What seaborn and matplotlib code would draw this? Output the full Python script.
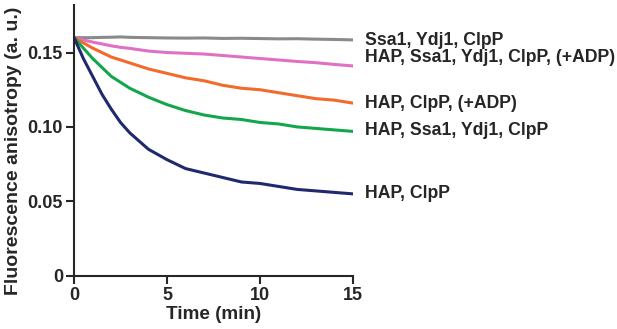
import numpy as np
import pandas as pd
import seaborn as sns
import matplotlib.pyplot as plt

# Data (time in min)
time = [0, 0.5, 1, 1.5, 2, 2.5, 3, 4, 5, 6, 7, 8, 9, 10, 11, 12, 13, 14, 15]
ssa1_ydj1_clpp = [0.160, 0.160, 0.160, 0.1602, 0.1603, 0.1605, 0.1602, 0.160, 0.1598, 0.1597, 0.1598, 0.1595, 0.1596, 0.1594, 0.1592, 0.1593, 0.159, 0.1588, 0.1585]
hap_ssa1_ydj1_clpp_adp = [0.160, 0.1585, 0.157, 0.1558, 0.1545, 0.1535, 0.1528, 0.151, 0.150, 0.1495, 0.149, 0.148, 0.147, 0.146, 0.145, 0.144, 0.1432, 0.142, 0.141]
hap_clpp_adp = [0.160, 0.1565, 0.153, 0.150, 0.147, 0.145, 0.143, 0.139, 0.136, 0.133, 0.131, 0.128, 0.126, 0.125, 0.123, 0.121, 0.119, 0.118, 0.116]
hap_ssa1_ydj1_clpp = [0.160, 0.153, 0.146, 0.140, 0.134, 0.130, 0.126, 0.120, 0.115, 0.111, 0.108, 0.106, 0.105, 0.103, 0.102, 0.100, 0.099, 0.098, 0.097]
hap_clpp = [0.160, 0.146, 0.134, 0.122, 0.112, 0.103, 0.096, 0.085, 0.078, 0.072, 0.069, 0.066, 0.063, 0.062, 0.060, 0.058, 0.057, 0.056, 0.055]

labels = ['Ssa1, Ydj1, ClpP', 'HAP, Ssa1, Ydj1, ClpP, (+ADP)', 'HAP, ClpP, (+ADP)',
          'HAP, Ssa1, Ydj1, ClpP', 'HAP, ClpP']
series = [ssa1_ydj1_clpp, hap_ssa1_ydj1_clpp_adp, hap_clpp_adp, hap_ssa1_ydj1_clpp, hap_clpp]
colors = ['#8a8a8a', '#e070c4', '#f26a2c', '#14a64c', '#1f2a6e']
label_y = [0.1584, 0.147, 0.116, 0.0973, 0.0555]

df = pd.DataFrame({'Time': time})
for lab, vals in zip(labels, series):
    df[lab] = vals
long_df = df.melt(id_vars='Time', var_name='Sample', value_name='Anisotropy')

sns.set_style('ticks')
plt.rcParams['font.family'] = ['Liberation Sans', 'DejaVu Sans']
plt.rcParams['font.weight'] = 'bold'

fig = plt.figure(figsize=(6.17, 3.29), dpi=100)
ax = fig.add_axes([0.12, 0.162, 0.452, 0.823])
sns.lineplot(data=long_df, x='Time', y='Anisotropy', hue='Sample', hue_order=labels,
             palette=dict(zip(labels, colors)), linewidth=2.2, legend=False, ax=ax)

for lab, y, c in zip(labels, label_y, colors):
    ax.text(15.65, y, lab, fontsize=12.7, fontweight='bold', va='center', ha='left',
            clip_on=False)

ax.set_xlim(0, 15)
ax.set_ylim(0, 0.182)
ax.set_xticks([0, 5, 10, 15])
ax.set_yticks([0, 0.05, 0.10, 0.15])
ax.set_yticklabels(['0', '0.05', '0.10', '0.15'])
ax.set_xlabel('Time (min)', fontsize=13.6, fontweight='bold')
ax.set_ylabel('Fluorescence anisotropy (a. u.)', fontsize=14, fontweight='bold')
ax.xaxis.set_label_coords(0.5, -0.113)
ax.yaxis.set_label_coords(-0.185, 0.46)
ax.tick_params(axis='both', labelsize=13, width=1.5, length=6, direction='out', pad=2)
for lbl in ax.get_xticklabels() + ax.get_yticklabels():
    lbl.set_fontweight('bold')
sns.despine(ax=ax)
for s in ['left', 'bottom']:
    ax.spines[s].set_linewidth(1.5)

fig.savefig('out.png', dpi=100)
